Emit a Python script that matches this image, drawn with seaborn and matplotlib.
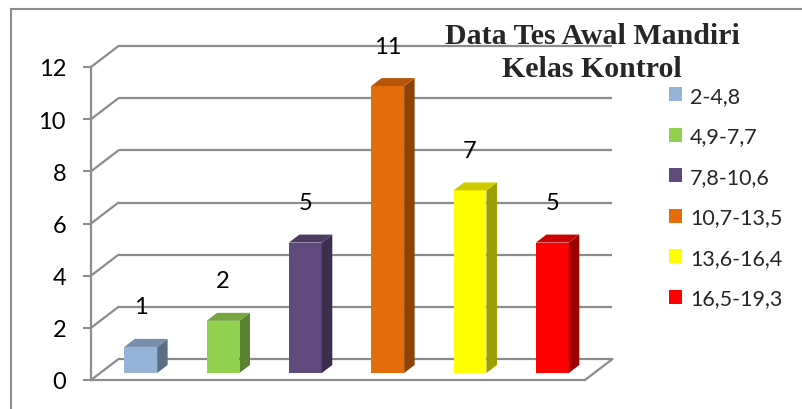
import numpy as np
import pandas as pd
import matplotlib
matplotlib.use("Agg")
import matplotlib.pyplot as plt
import matplotlib.transforms as mtransforms
from matplotlib.patches import Polygon, Rectangle, Patch
from matplotlib.colors import to_rgb
import seaborn as sns

categories = ["2-4,8", "4,9-7,7", "7,8-10,6", "10,7-13,5", "13,6-16,4", "16,5-19,3"]
values = [1, 2, 5, 11, 7, 5]
colors = ["#95B3D7", "#92D050", "#604A7B", "#E46C0A", "#FFFF00", "#FF0000"]
yticks = [0, 2, 4, 6, 8, 10, 12]
title = "Data Tes Awal Mandiri\nKelas Kontrol"

sns.set_theme(style="white")
plt.rcParams["font.family"] = ["Lato", "DejaVu Sans"]

W, H, DPI = 802, 410, 100
fig = plt.figure(figsize=(W / DPI, H / DPI), dpi=DPI)
ax = fig.add_axes([91 / W, (H - 381) / H, 494 / W, 313 / H])

GRAY = "#8C8C8C"

df = pd.DataFrame({"kelas": categories, "frek": values})
sns.barplot(data=df, x="kelas", y="frek", hue="kelas",
            palette=dict(zip(categories, colors)), width=0.4,
            saturation=1, legend=False, ax=ax, zorder=3, linewidth=0)

ax.set_xlim(-0.5, len(categories) - 0.5)
ax.set_ylim(0, 12)
ax.set_yticks(yticks)
ax.set_xticks([])
ax.set_xlabel("")
ax.set_ylabel("")

px_x = 494 / len(categories)
px_y = 313 / 12


def off(dx, dy):
    return ax.transData + mtransforms.ScaledTranslation(dx / DPI, dy / DPI, fig.dpi_scale_trans)


# back wall / left wall / floor
wdx, wdy = 27.5 / px_x, 21 / px_y
x0, x1 = ax.get_xlim()
for v in yticks:
    ax.plot([x0 + wdx, x1 + wdx], [v + wdy, v + wdy], color=GRAY, lw=1.6,
            zorder=1, clip_on=False, solid_capstyle="butt")
    ax.plot([x0, x0 + wdx], [v, v + wdy], color=GRAY, lw=1.6, zorder=1, clip_on=False)
ax.plot([x1, x1 + wdx], [0, wdy], color=GRAY, lw=1.6, zorder=1, clip_on=False)


def shade(c, f):
    r, g, b = to_rgb(c)
    return (r * f, g * f, b * f)


# 3D bars
bdx, bdy = 10.5 / px_x, 8 / px_y
tr = off(8.5, 7)
for p in list(ax.patches):
    x, w, h = p.get_x(), p.get_width(), p.get_height()
    fc = p.get_facecolor()
    p.set_transform(tr)
    top = Polygon([(x, h), (x + w, h), (x + w + bdx, h + bdy), (x + bdx, h + bdy)],
                  closed=True, facecolor=shade(fc, 0.8), edgecolor="none",
                  transform=tr, zorder=3, clip_on=False)
    side = Polygon([(x + w, 0), (x + w + bdx, bdy), (x + w + bdx, h + bdy), (x + w, h)],
                   closed=True, facecolor=shade(fc, 0.62), edgecolor="none",
                   transform=tr, zorder=3, clip_on=False)
    ax.add_patch(side)
    ax.add_patch(top)
    p.set_clip_on(False)

# data labels
for i, v in enumerate(values):
    ax.text(i, v, str(v), transform=off(8.5, 7 + 40), ha="center", va="center",
            fontsize=17, color="black", clip_on=False)

sns.despine(ax=ax, top=True, right=True)
for s in ["left", "bottom"]:
    ax.spines[s].set_color(GRAY)
    ax.spines[s].set_linewidth(1.6)
ax.tick_params(axis="y", which="major", direction="out", length=6, width=1.5,
               color=GRAY, pad=12, labelsize=17, labelcolor="black", left=True)
ax.tick_params(axis="x", bottom=False)
ax.set_facecolor("none")

# title
fig.text(592 / W, (H - 53) / H, title, ha="center", va="center", fontsize=21.5,
         fontweight="bold", family="Liberation Serif", linespacing=1.28)

# legend
handles = [Patch(facecolor=c, edgecolor="none") for c in colors]
ax.legend(handles, categories, loc="upper left",
          bbox_to_anchor=(669 / W, (H - 87) / H), bbox_transform=fig.transFigure,
          frameon=False, fontsize=15.5, handlelength=0.62, handleheight=0.62,
          handletextpad=0.35, labelspacing=0.95, borderpad=0, borderaxespad=0)

# outer border
fig.patches.append(Rectangle((11 / W, -0.2), 1.2, (H - 10) / H + 0.2,
                             transform=fig.transFigure, fill=False,
                             edgecolor=GRAY, lw=1.5, zorder=0))

fig.savefig("out.png", dpi=DPI)
